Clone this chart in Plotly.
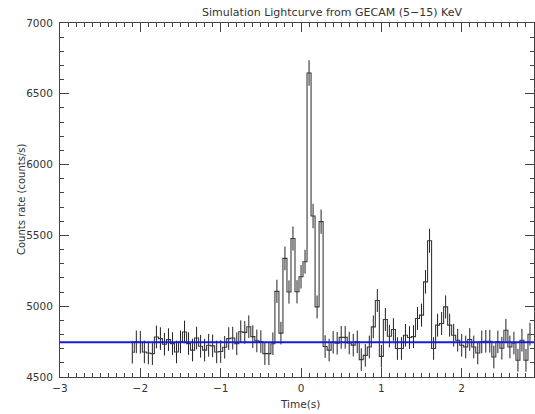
import numpy as np
import plotly.graph_objects as go

# Time bin centers (s), 0.05 s bins
t_start = -2.10
bin_width = 0.05
n_bins = 100
time = np.round(t_start + bin_width * np.arange(n_bins), 3)

rate = [
    4675, 4748, 4745, 4677, 4670, 4665, 4783, 4771, 4731, 4764,
    4736, 4677, 4748, 4818, 4736, 4690, 4775, 4717, 4690, 4724,
    4720, 4677, 4680, 4710, 4771, 4775, 4735, 4820, 4815, 4855,
    4785, 4755, 4750, 4665, 4665, 4735, 5105, 4810, 5338, 5100,
    5478, 5102, 5208, 5314, 6647, 5637, 4995, 5597, 4715, 4690,
    4745, 4738, 4780, 4780, 4740, 4725, 4748, 4623, 4653, 4712,
    4854, 5040, 4646, 4906, 4788, 4835, 4701, 4701, 4795, 4779,
    4785, 4913, 4937, 5172, 5462, 4701, 4866, 4878, 4995, 4866,
    4795, 4760, 4724, 4712, 4765, 4712, 4670, 4748, 4752, 4752,
    4641, 4748, 4703, 4830, 4712, 4740, 4618, 4760, 4618, 4802,
]

rate_err = [
    80, 80, 80, 80, 80, 80, 80, 80, 80, 80,
    80, 80, 80, 80, 80, 80, 80, 80, 80, 80,
    80, 80, 80, 80, 80, 80, 80, 80, 80, 80,
    80, 80, 80, 80, 80, 80, 82, 80, 84, 82,
    85, 82, 83, 84, 90, 86, 81, 86, 80, 80,
    80, 80, 80, 80, 80, 80, 80, 80, 80, 80,
    80, 81, 80, 81, 80, 80, 80, 80, 80, 80,
    80, 81, 81, 83, 85, 80, 81, 81, 81, 81,
    80, 80, 80, 80, 80, 80, 80, 80, 80, 80,
    80, 80, 80, 80, 80, 80, 80, 80, 80, 80,
]

background_level = 4745
x_range = [-3, 2.9]
y_range = [4500, 7000]
x_ticks = [-3, -2, -1, 0, 1, 2]
y_ticks = [4500, 5000, 5500, 6000, 6500, 7000]

title_text = "Simulation Lightcurve from GECAM (5\u221215) KeV"
xlabel = "Time(s)"
ylabel = "Counts rate (counts/s)"

FONT = "DejaVu Sans"
TXT = "#333333"
AX = "#444444"

fig = go.Figure()

# error bars
fig.add_trace(go.Scatter(
    x=time, y=rate, mode="markers",
    marker=dict(size=0, color="rgba(0,0,0,0)"),
    error_y=dict(type="data", array=rate_err, visible=True,
                 color="#222222", thickness=1, width=0),
    showlegend=False, hoverinfo="skip",
))

# histogram steps
fig.add_trace(go.Scatter(
    x=time, y=rate, mode="lines",
    line=dict(shape="hvh", color="#3a3a3a", width=1.1),
    showlegend=False,
))

# background level line
fig.add_trace(go.Scatter(
    x=x_range, y=[background_level, background_level], mode="lines",
    line=dict(color="#1a1adc", width=2),
    showlegend=False,
))

tickfont = dict(family=FONT, size=10.5, color=TXT)
common = dict(showline=True, linecolor=AX, linewidth=1,
              ticks="inside", ticklen=9, tickwidth=1, tickcolor=AX,
              showgrid=False, zeroline=False, tickfont=tickfont)
xminor = dict(dtick=0.1, tick0=0, ticklen=4, ticks="inside", tickcolor=AX, tickwidth=1)
yminor = dict(dtick=100, tick0=4500, ticklen=4, ticks="inside", tickcolor=AX, tickwidth=1)

fig.update_layout(
    width=535, height=414,
    margin=dict(l=60, r=1, t=23, b=37),
    paper_bgcolor="white", plot_bgcolor="white",
    xaxis=dict(range=x_range, tickvals=x_ticks,
               ticktext=[("\u2212" + str(-v)) if v < 0 else str(v) for v in x_ticks],
               minor=xminor, ticklabelstandoff=1, **common),
    yaxis=dict(range=y_range, tickvals=y_ticks, minor=yminor,
               ticklabelstandoff=4, **common),
    xaxis2=dict(range=x_range, tickvals=x_ticks, overlaying="x", side="top",
                anchor="y", showticklabels=False, minor=xminor, **common),
    yaxis2=dict(range=y_range, tickvals=y_ticks, overlaying="y", side="right",
                anchor="x", showticklabels=False, minor=yminor, **common),
    title=dict(text=title_text, x=332 / 535, xanchor="center",
               y=1 - 12.5 / 414, yanchor="middle",
               font=dict(family=FONT, size=11, color=TXT)),
    annotations=[
        dict(text=xlabel, xref="paper", yref="paper",
             x=(300 - 60) / 474, y=-(404 - 377) / 354,
             xanchor="center", yanchor="middle", showarrow=False,
             font=dict(family=FONT, size=10.5, color=TXT)),
        dict(text=ylabel, xref="paper", yref="paper",
             x=(21 - 60) / 474, y=0.5,
             xanchor="center", yanchor="middle", showarrow=False, textangle=-90,
             font=dict(family=FONT, size=10, color=TXT)),
    ],
)

# invisible trace to activate secondary axes
fig.add_trace(go.Scatter(x=[x_range[0]], y=[y_range[0]], xaxis="x2", yaxis="y2",
                         mode="markers", marker=dict(size=0, opacity=0),
                         showlegend=False, hoverinfo="skip"))

fig.write_html("out.html")
